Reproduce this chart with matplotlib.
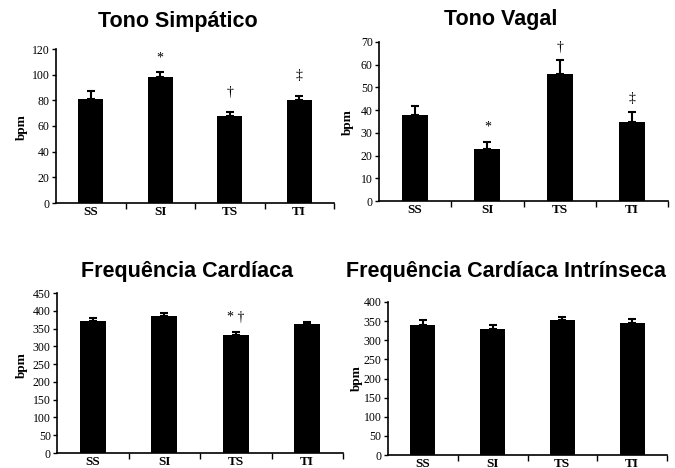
import matplotlib
matplotlib.use("Agg")
import matplotlib.pyplot as plt
import numpy as np

categories = ["SS", "SI", "TS", "TI"]

ts_values = [81, 98, 68, 80]
ts_errors = [6, 4, 3, 3]
ts_marks = ["", "*", "†", "‡"]
ts_mark_y = [0, 113, 86, 99]

tv_values = [38, 23, 56, 35]
tv_errors = [4, 3, 6, 4]
tv_marks = ["", "*", "†", "‡"]
tv_mark_y = [0, 32.5, 67.5, 45]

fc_values = [371, 385, 331, 362]
fc_errors = [9, 8, 8, 7]
fc_marks = ["", "", "* †", ""]
fc_mark_y = [0, 0, 380, 0]

fci_values = [340, 330, 353, 345]
fci_errors = [13, 9, 8, 11]
fci_marks = ["", "", "", ""]
fci_mark_y = [0, 0, 0, 0]

W, H = 675, 468
fig = plt.figure(figsize=(W / 100, H / 100), dpi=100)

serif = "Liberation Serif"
sans = "Liberation Sans"


def add_ax(l, r, t, b):
    return fig.add_axes([l / W, 1 - b / H, (r - l) / W, (b - t) / H])


def panel(box, values, errors, marks, mark_y, ymax, ystep, title, title_xy, ylab_xy):
    ax = add_ax(*box)
    x = np.arange(len(categories))
    ax.bar(x, values, width=0.36, color="black", zorder=2)
    ax.errorbar(x, values, yerr=[np.zeros(len(errors)), errors], fmt="none",
                ecolor="black", elinewidth=1.5, capsize=3, capthick=1.5, zorder=3)
    for xi, m, my in zip(x, marks, mark_y):
        if m:
            ax.text(xi, my, m, ha="center", va="center", fontsize=10,
                    family=serif, color="black")
    ax.set_xlim(-0.5, len(categories) - 0.5)
    ax.set_ylim(0, ymax)
    ax.set_yticks(np.arange(0, ymax + 1, ystep))
    ax.set_xticks(x)
    ax.set_xticklabels(categories, fontsize=9.5, fontweight="bold", family=serif)
    ax.tick_params(axis="x", length=0, pad=2)
    ax.set_xticks(np.arange(0.5, len(categories), 1.0), minor=True)
    ax.tick_params(axis="x", which="minor", length=4, width=1, direction="out")
    ax.tick_params(axis="y", length=3, width=1, direction="out", labelsize=8.5, pad=1.5)
    for lab in ax.get_yticklabels():
        lab.set_family(serif)
    for s in ["top", "right"]:
        ax.spines[s].set_visible(False)
    for s in ["left", "bottom"]:
        ax.spines[s].set_linewidth(1.2)
    fig.text(title_xy[0] / W, 1 - title_xy[1] / H, title, ha="center", va="center",
             fontsize=15.5, fontweight="bold", family=sans)
    fig.text(ylab_xy[0] / W, 1 - ylab_xy[1] / H, "bpm", ha="center", va="center",
             rotation=90, fontsize=9.5, fontweight="bold", family=serif)
    return ax


panel((56, 334, 49, 203), ts_values, ts_errors, ts_marks, ts_mark_y, 120, 20,
      "Tono Simpático", (178, 21), (22, 127))
panel((379, 668, 42, 201), tv_values, tv_errors, tv_marks, tv_mark_y, 70, 10,
      "Tono Vagal", (501, 20), (348, 122))
panel((57, 343, 293, 453), fc_values, fc_errors, fc_marks, fc_mark_y, 450, 50,
      "Frequência Cardíaca", (187, 272), (22, 365))
panel((388, 667, 302, 455), fci_values, fci_errors, fci_marks, fci_mark_y, 400, 50,
      "Frequência Cardíaca Intrínseca", (506, 272), (357, 378))

fig.savefig("out.png", dpi=100, facecolor="white")
